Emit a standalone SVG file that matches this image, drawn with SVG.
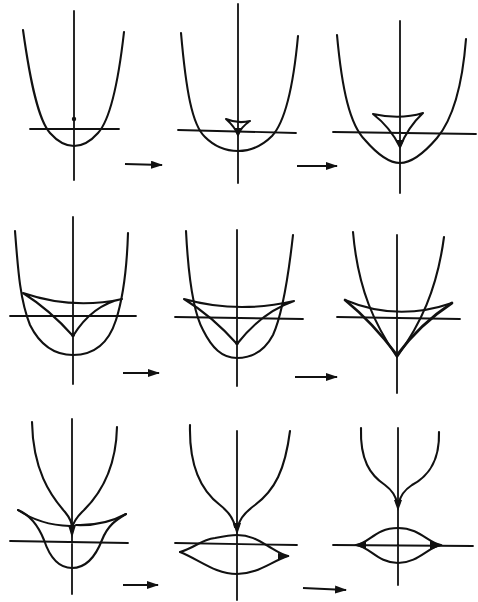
<svg xmlns="http://www.w3.org/2000/svg" width="478" height="602" viewBox="0 0 478 602">
<defs>
<style>
.ax{stroke:#111;stroke-width:1.8;fill:none;stroke-linecap:round}
.cv{stroke:#111;stroke-width:2.1;fill:none;stroke-linecap:round;stroke-linejoin:round}
.th{stroke:#111;stroke-width:2.7;fill:none;stroke-linecap:round;stroke-linejoin:round}
.fl{fill:#111;stroke:none}
.ar{stroke:#111;stroke-width:2;fill:none}
</style>
<marker id="ah" viewBox="0 0 12 8" refX="11" refY="4" markerWidth="12" markerHeight="8" markerUnits="userSpaceOnUse" orient="auto">
<path d="M0 0 L12 4 L0 8 Z" fill="#111"/>
</marker>
</defs>
<rect width="478" height="602" fill="#fff"/>

<g id="panel1">
<path class="ax" d="M74 11 V180 M30 129 H119"/>
<path class="cv" d="M23 30 C30 80 38 120 50 133 C58 142 66 146 74 146 C82 146 90 142 98 133 C110 120 118 85 124 32"/>
<circle class="fl" cx="74" cy="119" r="2.2"/>
</g>

<g id="panel2">
<path class="ax" d="M238 4 V183 M178 130 L296 133"/>
<path class="cv" d="M181 33 C186 90 192 125 205 137 C215 147 226 151 238 151 C252 151 262 146 272 136 C285 122 293 90 298 36"/>
<path class="cv" d="M226 119 Q238 124 250 121 Q241 127 238 135 Q235 127 226 119 Z"/>
<path class="fl" d="M234 128 L242 128 L238 137 Z"/>
</g>

<g id="panel3">
<path class="ax" d="M400 21 V193 M333 132 L476 134"/>
<path class="cv" d="M337 35 C342 90 350 125 365 140 C378 155 390 163 400 163 C412 163 425 152 437 138 C452 120 462 90 466 39"/>
<path class="cv" d="M373 114 Q400 120 423 113 M373 114 Q390 127 400 147 M423 113 Q408 127 400 147"/>
<path class="fl" d="M396 140 L404 140 L400 149 Z"/>
</g>

<g id="panel4">
<path class="ax" d="M73 217 V384 M10 316 H136"/>
<path class="cv" d="M15 231 C18 270 20 300 30 325 C40 345 55 355 73 355 C92 355 108 345 116 320 C124 295 127 265 128 233"/>
<path class="cv" d="M23 293 Q73 310 122 299 M23 293 Q50 310 73 336 M122 299 Q92 305 73 336"/>
<circle class="fl" cx="73" cy="335" r="2"/>
</g>

<g id="panel5">
<path class="ax" d="M237 230 V386 M175 317 L303 319"/>
<path class="cv" d="M186 231 C188 270 192 310 203 330 C212 348 222 358 237 358 C252 358 265 350 273 335 C282 315 288 280 293 235"/>
<path class="cv" d="M184 299 Q237 314 294 301 M184 299 Q212 316 237 344 M294 301 Q262 312 237 344"/>
<circle class="fl" cx="237" cy="343" r="2"/>
</g>

<g id="panel6">
<path class="ax" d="M397 235 V393 M337 317 L460 319"/>
<path class="cv" d="M353 232 C358 290 375 325 397 357 C420 325 437 290 444 237"/>
<path class="cv" d="M345 300 Q397 322 452 303"/>
<path class="th" d="M345 300 Q372 322 397 355 M452 303 Q420 324 397 355"/>
</g>

<g id="panel7">
<path class="ax" d="M72 419 V594 M10 541 L128 543"/>
<path class="cv" d="M32 422 C33 470 50 495 65 512 C70 518 72 524 72 528 M117 427 C116 470 100 495 82 512 C76 518 73 524 72 528"/>
<path class="fl" d="M68 525 L76 525 L72 538 Z"/>
<path class="cv" d="M18 510 Q40 525 70 526 M76 525 Q104 526 126 514"/>
<path class="cv" d="M18 510 C30 515 38 525 44 540 C50 558 60 568 72 568 C86 568 95 558 102 540 C108 525 116 520 126 514"/>
</g>

<g id="panel8">
<path class="ax" d="M237 431 V600 M175 543 L297 545"/>
<path class="cv" d="M190 425 C189 465 200 490 220 505 C230 513 234 520 235 527 M290 431 C285 470 275 490 255 505 C244 513 239 520 238 527"/>
<path class="fl" d="M233 523 L241 523 L237 535 Z"/>
<path class="cv" d="M180 552 C195 548 200 540 215 538 C225 536 230 535 237 535 C250 535 258 540 268 546 C275 550 280 554 288 556"/>
<path class="cv" d="M180 552 C200 560 215 574 237 574 C258 574 270 562 288 556"/>
<path class="fl" d="M278 553 L290 556 L278 560 Z"/>
</g>

<g id="panel9">
<path class="ax" d="M398 428 V585 M333 545 L473 546"/>
<path class="cv" d="M361 428 C360 460 370 475 385 485 C393 491 396 497 397 503 M439 432 C440 465 425 478 412 485 C403 491 400 497 399 503"/>
<path class="fl" d="M394 500 L402 500 L398 511 Z"/>
<path class="cv" d="M356 545 C370 543 375 528 398 528 C420 528 428 543 441 545 M356 545 C370 547 378 563 398 563 C418 563 428 547 441 545"/>
<path class="fl" d="M354 545 L366 541 L366 549 Z M443 545 L430 541 L430 550 Z"/>
</g>

<g id="connectors">
<path class="ar" d="M125 164 L162 165" marker-end="url(#ah)"/>
<path class="ar" d="M297 166 L337 166" marker-end="url(#ah)"/>
<path class="ar" d="M123 373 L159 373" marker-end="url(#ah)"/>
<path class="ar" d="M295 377 L337 377" marker-end="url(#ah)"/>
<path class="ar" d="M123 585 L158 585" marker-end="url(#ah)"/>
<path class="ar" d="M303 588 L346 590" marker-end="url(#ah)"/>
</g>
</svg>
